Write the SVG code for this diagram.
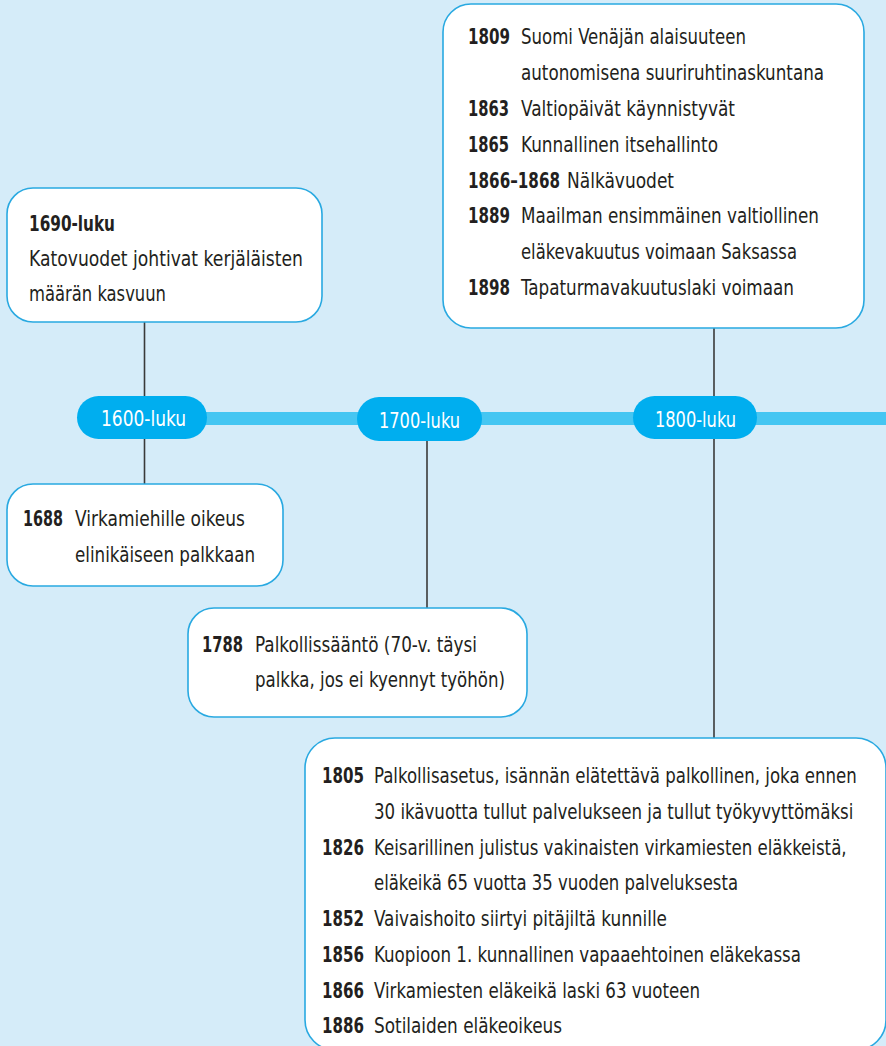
<svg xmlns="http://www.w3.org/2000/svg" width="886" height="1046" viewBox="0 0 886 1046">
<style>
.bg{fill:#d5ecf9}
.box{fill:#ffffff;stroke:#29a9e1;stroke-width:1.6}
.pill{fill:#00aeef}
.bar{fill:#45c6f2}
.conn{stroke:#3a3a3a;stroke-width:1.6;fill:none}
text{font-family:"Liberation Sans Narrow","DejaVu Sans Condensed","Liberation Sans",sans-serif;font-size:22px;fill:#231f20}
.b{font-weight:bold}
.pt{fill:#ffffff}
</style>
<rect class="bg" x="0" y="0" width="886" height="1046"/>
<rect class="bar" x="190" y="412" width="696" height="13"/>
<g id="connectors">
<line class="conn" x1="144.5" y1="322" x2="144.5" y2="397"/>
<line class="conn" x1="144.5" y1="438" x2="144.5" y2="484"/>
<line class="conn" x1="427" y1="440" x2="427" y2="608"/>
<line class="conn" x1="714" y1="327" x2="714" y2="397"/>
<line class="conn" x1="714" y1="438" x2="714" y2="738"/>
</g>
<g id="pill-1600">
<rect class="pill" x="77" y="396" width="130" height="43" rx="21.5"/>
<text class="pt" x="101" y="426" textLength="85" lengthAdjust="spacingAndGlyphs">1600-luku</text>
</g>
<g id="pill-1700">
<rect class="pill" x="357" y="397" width="125" height="44" rx="22"/>
<text class="pt" x="379" y="428" textLength="81" lengthAdjust="spacingAndGlyphs">1700-luku</text>
</g>
<g id="pill-1800">
<rect class="pill" x="633" y="396" width="124" height="43" rx="21.5"/>
<text class="pt" x="655" y="427" textLength="81" lengthAdjust="spacingAndGlyphs">1800-luku</text>
</g>
<g id="box-1690">
<rect class="box" x="7" y="188" width="315" height="134" rx="26"/>
<text class="b" x="29" y="231" textLength="86" lengthAdjust="spacingAndGlyphs">1690-luku</text>
<text x="29" y="266" textLength="274" lengthAdjust="spacingAndGlyphs">Katovuodet  johtivat kerjäläisten</text>
<text x="29" y="301" textLength="137" lengthAdjust="spacingAndGlyphs">määrän kasvuun</text>
</g>
<g id="box-1688">
<rect class="box" x="7" y="484" width="276" height="102" rx="26"/>
<text class="b" x="23" y="526" textLength="40" lengthAdjust="spacingAndGlyphs">1688</text>
<text x="75" y="526" textLength="170" lengthAdjust="spacingAndGlyphs">Virkamiehille oikeus</text>
<text x="75" y="562" textLength="180" lengthAdjust="spacingAndGlyphs">elinikäiseen palkkaan</text>
</g>
<g id="box-1788">
<rect class="box" x="188" y="608" width="339" height="109" rx="26"/>
<text class="b" x="202" y="652" textLength="41" lengthAdjust="spacingAndGlyphs">1788</text>
<text x="255" y="652" textLength="222" lengthAdjust="spacingAndGlyphs">Palkollissääntö (70-v. täysi</text>
<text x="255" y="687" textLength="250" lengthAdjust="spacingAndGlyphs">palkka, jos ei kyennyt työhön)</text>
</g>
<g id="box-1800-top">
<rect class="box" x="443" y="4" width="421" height="324" rx="28"/>
<text class="b" x="468" y="44" textLength="42" lengthAdjust="spacingAndGlyphs">1809</text>
<text x="521" y="44" textLength="225" lengthAdjust="spacingAndGlyphs">Suomi Venäjän alaisuuteen</text>
<text x="521" y="80" textLength="303" lengthAdjust="spacingAndGlyphs">autonomisena suuriruhtinaskuntana</text>
<text class="b" x="468" y="116" textLength="41" lengthAdjust="spacingAndGlyphs">1863</text>
<text x="521" y="116" textLength="214" lengthAdjust="spacingAndGlyphs">Valtiopäivät käynnistyvät</text>
<text class="b" x="468" y="152" textLength="41" lengthAdjust="spacingAndGlyphs">1865</text>
<text x="521" y="152" textLength="197" lengthAdjust="spacingAndGlyphs">Kunnallinen itsehallinto</text>
<text class="b" transform="translate(468 188) scale(0.75 1)" x="0" y="0" textLength="122.7" lengthAdjust="spacingAndGlyphs">1866–1868</text>
<text transform="translate(567 188) scale(0.85 1)" x="0" y="0" textLength="125.9" lengthAdjust="spacingAndGlyphs">Nälkävuodet</text>
<text class="b" x="468" y="223" textLength="42" lengthAdjust="spacingAndGlyphs">1889</text>
<text x="521" y="223" textLength="298" lengthAdjust="spacingAndGlyphs">Maailman ensimmäinen valtiollinen</text>
<text x="521" y="259" textLength="276" lengthAdjust="spacingAndGlyphs">eläkevakuutus voimaan Saksassa</text>
<text class="b" x="468" y="295" textLength="42" lengthAdjust="spacingAndGlyphs">1898</text>
<text x="521" y="295" textLength="273" lengthAdjust="spacingAndGlyphs">Tapaturmavakuutuslaki voimaan</text>
</g>
<g id="box-1800-bottom">
<rect class="box" x="305" y="738" width="581" height="312" rx="30"/>
<text class="b" x="322" y="783" textLength="42" lengthAdjust="spacingAndGlyphs">1805</text>
<text transform="translate(374 783) scale(0.85 1)" x="0" y="0" textLength="568" lengthAdjust="spacingAndGlyphs">Palkollisasetus, isännän elätettävä palkollinen, joka ennen</text>
<text transform="translate(374 819) scale(0.85 1)" x="0" y="0" textLength="564" lengthAdjust="spacingAndGlyphs">30 ikävuotta tullut palvelukseen ja tullut työkyvyttömäksi</text>
<text class="b" x="322" y="855" textLength="42" lengthAdjust="spacingAndGlyphs">1826</text>
<text transform="translate(374 855) scale(0.85 1)" x="0" y="0" textLength="556" lengthAdjust="spacingAndGlyphs">Keisarillinen julistus vakinaisten virkamiesten eläkkeistä,</text>
<text x="374" y="890" textLength="364" lengthAdjust="spacingAndGlyphs">eläkeikä 65 vuotta 35 vuoden palveluksesta</text>
<text class="b" x="322" y="926" textLength="42" lengthAdjust="spacingAndGlyphs">1852</text>
<text x="374" y="926" textLength="293" lengthAdjust="spacingAndGlyphs">Vaivaishoito siirtyi pitäjiltä kunnille</text>
<text class="b" x="322" y="962" textLength="42" lengthAdjust="spacingAndGlyphs">1856</text>
<text x="374" y="962" textLength="427" lengthAdjust="spacingAndGlyphs">Kuopioon 1. kunnallinen vapaaehtoinen eläkekassa</text>
<text class="b" x="322" y="998" textLength="42" lengthAdjust="spacingAndGlyphs">1866</text>
<text x="374" y="998" textLength="326" lengthAdjust="spacingAndGlyphs">Virkamiesten eläkeikä laski 63 vuoteen</text>
<text class="b" x="322" y="1033" textLength="42" lengthAdjust="spacingAndGlyphs">1886</text>
<text x="374" y="1033" textLength="188" lengthAdjust="spacingAndGlyphs">Sotilaiden eläkeoikeus</text>
</g>
</svg>
